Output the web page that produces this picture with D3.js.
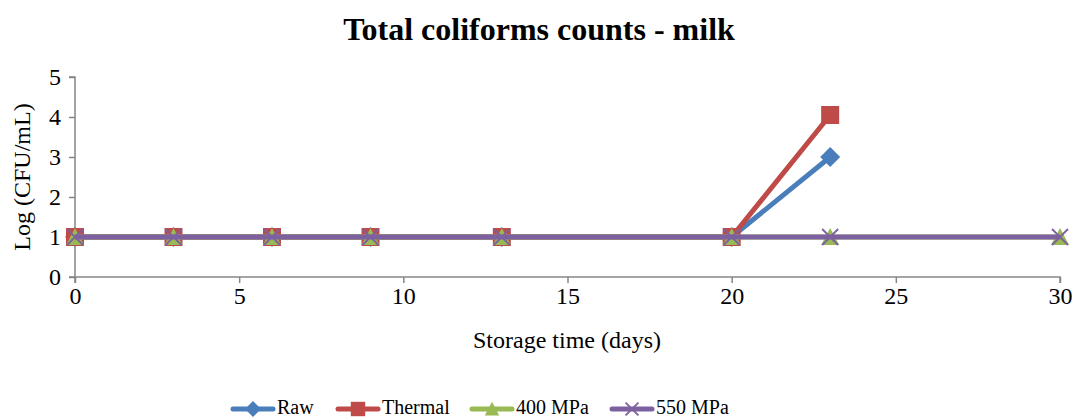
<!DOCTYPE html>
<html><head><meta charset="utf-8">
<script src="https://cdn.jsdelivr.net/npm/d3@7"></script>
<style>body{margin:0;background:#fff}svg{display:block}text{font-family:"Liberation Serif","Times New Roman",serif}</style>
</head><body><svg id="c" width="1078" height="418"></svg>
<script>
const rawDays = [0,3,6,9,13,20,23];
const rawValues = [1,1,1,1,1,1,3];
const thermalDays = [0,3,6,9,13,20,23];
const thermalValues = [1,1,1,1,1,1,4.05];
const mpa400Days = [0,3,6,9,13,20,23,30];
const mpa400Values = [1,1,1,1,1,1,1,1];
const mpa550Days = [0,3,6,9,13,20,23,30];
const mpa550Values = [1,1,1,1,1,1,1,1];
const xTicks = [0,5,10,15,20,25,30];
const yTicks = [0,1,2,3,4,5];
const seriesNames = ["Raw","Thermal","400 MPa","550 MPa"];
const colors = ["#4a7ebb","#be4b48","#98b954","#7d60a0"];

const svg = d3.select("#c");
const x = d3.scaleLinear().domain([0,30]).range([75,1060]);
const y = d3.scaleLinear().domain([0,5]).range([277,77]);
const axisColor = "#868686";
const FF = "Liberation Serif";

const gx = svg.append("g").attr("transform","translate(0,277)")
  .call(d3.axisBottom(x).tickValues(xTicks).tickFormat(d3.format("d")).tickSize(6).tickPadding(4));
const gy = svg.append("g").attr("transform","translate(75,0)")
  .call(d3.axisLeft(y).tickValues(yTicks).tickFormat(d3.format("d")).tickSize(6).tickPadding(8));
[gx,gy].forEach(g=>{
  g.attr("font-family",FF).attr("font-size",24);
  g.select(".domain").attr("stroke",axisColor).attr("stroke-width",1.5);
  g.selectAll(".tick line").attr("stroke",axisColor).attr("stroke-width",1.5);
  g.selectAll(".tick text").attr("fill","#000").attr("font-family",FF);
});
gx.select(".domain").attr("d","M"+x(0)+",6V0H"+x(30)+"V6");
gy.select(".domain").attr("d","M-6,"+y(5)+"H0V"+y(0)+"H-6");

svg.append("text").attr("x",539).attr("y",40).attr("text-anchor","middle")
  .attr("font-family",FF).attr("font-size",32).attr("font-weight","bold").text("Total coliforms counts - milk");
svg.append("text").attr("x",567).attr("y",348).attr("text-anchor","middle")
  .attr("font-family",FF).attr("font-size",24).text("Storage time (days)");
svg.append("text").attr("transform","translate(30,177) rotate(-90)").attr("text-anchor","middle")
  .attr("font-family",FF).attr("font-size",24).text("Log (CFU/mL)");

const series = [
  {name:seriesNames[0],days:rawDays,vals:rawValues,color:colors[0],m:"diamond"},
  {name:seriesNames[1],days:thermalDays,vals:thermalValues,color:colors[1],m:"square"},
  {name:seriesNames[2],days:mpa400Days,vals:mpa400Values,color:colors[2],m:"triangle"},
  {name:seriesNames[3],days:mpa550Days,vals:mpa550Values,color:colors[3],m:"x"}
];
const line = d3.line().x(d=>x(d[0])).y(d=>y(d[1]));

function marker(g,type,cx,cy,color,scale=1){
  if(type==="diamond"){
    const s=10*scale;
    g.append("path").attr("d",`M${cx},${cy-s}L${cx+s},${cy}L${cx},${cy+s}L${cx-s},${cy}Z`).attr("fill",color);
  } else if(type==="square"){
    const s=9*scale;
    g.append("rect").attr("x",cx-s).attr("y",cy-s).attr("width",2*s).attr("height",2*s).attr("fill",color);
  } else if(type==="triangle"){
    const s=9*scale;
    g.append("path").attr("d",`M${cx},${cy-s}L${cx+s},${cy+s*0.9}L${cx-s},${cy+s*0.9}Z`).attr("fill",color);
  } else {
    const s=8*scale;
    g.append("path").attr("d",`M${cx-s},${cy-s}L${cx+s},${cy+s}M${cx-s},${cy+s}L${cx+s},${cy-s}`)
      .attr("stroke",color).attr("stroke-width",1.8).attr("fill","none");
  }
}

series.forEach(s=>{
  const data = s.days.map((d,i)=>[d,s.vals[i]]);
  const g = svg.append("g");
  g.append("path").datum(data).attr("d",line).attr("fill","none")
    .attr("stroke",s.color).attr("stroke-width",5).attr("stroke-linejoin","round");
  data.forEach(d=>marker(g,s.m,x(d[0]),y(d[1]),s.color));
});

const legX = [231,336,470,610];
series.forEach((s,i)=>{
  const g = svg.append("g");
  const lx = legX[i], ly = 409;
  g.append("line").attr("x1",lx+2).attr("x2",lx+42).attr("y1",ly).attr("y2",ly)
    .attr("stroke",s.color).attr("stroke-width",5).attr("stroke-linecap","round");
  marker(g,s.m,lx+22,ly,s.color,0.8);
  g.append("text").attr("x",lx+46).attr("y",414).attr("font-family",FF).attr("font-size",20).text(s.name);
});
</script></body></html>
